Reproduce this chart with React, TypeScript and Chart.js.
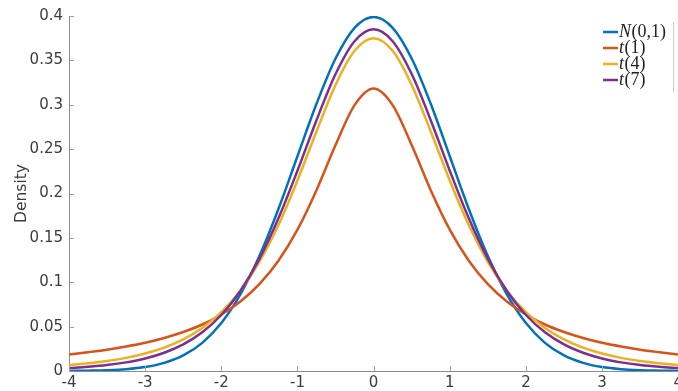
import React, { useEffect, useRef } from "react";
import { Chart, registerables } from "chart.js";

Chart.register(...registerables);

const xValues = [-4, -3.75, -3.5, -3.25, -3, -2.75, -2.5, -2.25, -2, -1.75, -1.5, -1.25, -1, -0.75, -0.5, -0.25, 0, 0.25, 0.5, 0.75, 1, 1.25, 1.5, 1.75, 2, 2.25, 2.5, 2.75, 3, 3.25, 3.5, 3.75, 4];

const normal01 = [0.0001, 0.0004, 0.0009, 0.002, 0.0044, 0.0091, 0.0175, 0.0317, 0.054, 0.0863, 0.1295, 0.1826, 0.242, 0.3011, 0.3521, 0.3867, 0.3989, 0.3867, 0.3521, 0.3011, 0.242, 0.1826, 0.1295, 0.0863, 0.054, 0.0317, 0.0175, 0.0091, 0.0044, 0.002, 0.0009, 0.0004, 0.0001];

const t1 = [0.0187, 0.0212, 0.024, 0.0276, 0.0318, 0.0372, 0.0439, 0.0524, 0.0637, 0.0784, 0.0979, 0.1242, 0.1592, 0.2037, 0.2546, 0.2996, 0.3183, 0.2996, 0.2546, 0.2037, 0.1592, 0.1242, 0.0979, 0.0784, 0.0637, 0.0524, 0.0439, 0.0372, 0.0318, 0.0276, 0.024, 0.0212, 0.0187];

const t4 = [0.0067, 0.0087, 0.0113, 0.0148, 0.0197, 0.0264, 0.0357, 0.0485, 0.0663, 0.0905, 0.1229, 0.1644, 0.2147, 0.2699, 0.3223, 0.3608, 0.375, 0.3608, 0.3223, 0.2699, 0.2147, 0.1644, 0.1229, 0.0905, 0.0663, 0.0485, 0.0357, 0.0264, 0.0197, 0.0148, 0.0113, 0.0087, 0.0067];

const t7 = [0.0033, 0.0047, 0.0067, 0.0097, 0.0141, 0.0206, 0.03, 0.0437, 0.0631, 0.0902, 0.1263, 0.172, 0.2257, 0.2826, 0.3346, 0.3716, 0.385, 0.3716, 0.3346, 0.2826, 0.2257, 0.172, 0.1263, 0.0902, 0.0631, 0.0437, 0.03, 0.0206, 0.0141, 0.0097, 0.0067, 0.0047, 0.0033];

const xTickLabels = ["-4", "-3", "-2", "-1", "0", "1", "2", "3", "4"];
const yTickLabels = ["0", "0.05", "0.1", "0.15", "0.2", "0.25", "0.3", "0.35", "0.4"];

const seriesNames = [
  { italic: "N", rest: "(0,1)" },
  { italic: "t", rest: "(1)" },
  { italic: "t", rest: "(4)" },
  { italic: "t", rest: "(7)" },
];
const seriesColors = ["#0072BD", "#D95319", "#EDB120", "#7E2F8E"];
const seriesData = [normal01, t1, t4, t7];

const AXIS = "#8c8c8c";
const TEXT = "#3c3c3c";
const SANS = "'DejaVu Sans', sans-serif";

const decorPlugin = {
  id: "decor",
  afterDraw(chart: any) {
    const ctx = chart.ctx;
    const xs = chart.scales.x;
    const ys = chart.scales.y;
    const area = chart.chartArea;
    ctx.save();
    // inward ticks
    ctx.strokeStyle = "#a0a0a0";
    ctx.lineWidth = 1;
    xTickLabels.forEach((l) => {
      const px = Math.round(xs.getPixelForValue(Number(l))) + 0.5;
      ctx.beginPath();
      ctx.moveTo(px, area.bottom);
      ctx.lineTo(px, area.bottom - 5);
      ctx.stroke();
    });
    yTickLabels.forEach((l) => {
      const py = Math.round(ys.getPixelForValue(Number(l))) + 0.5;
      ctx.beginPath();
      ctx.moveTo(area.left, py);
      ctx.lineTo(area.left + 5, py);
      ctx.stroke();
    });
    // legend
    const lx0 = 603;
    const lx1 = 618;
    const tx = 619;
    const ly = [32, 48, 64, 80];
    ctx.strokeStyle = "#c8c8c8";
    ctx.lineWidth = 1;
    ctx.beginPath();
    ctx.moveTo(673.5, 22);
    ctx.lineTo(673.5, 92);
    ctx.stroke();
    seriesNames.forEach((s, i) => {
      ctx.strokeStyle = seriesColors[i];
      ctx.lineWidth = 2.5;
      ctx.beginPath();
      ctx.moveTo(lx0, ly[i]);
      ctx.lineTo(lx1, ly[i]);
      ctx.stroke();
      ctx.fillStyle = "#222";
      ctx.textBaseline = "middle";
      ctx.textAlign = "left";
      ctx.font = "italic 18px 'Liberation Serif'";
      ctx.fillText(s.italic, tx, ly[i]);
      const w = ctx.measureText(s.italic).width;
      ctx.font = "18px 'Liberation Serif'";
      ctx.fillText(s.rest, tx + w + 0.5, ly[i]);
    });
    ctx.restore();
  },
};

export default function App() {
  const ref = useRef<HTMLCanvasElement>(null);
  useEffect(() => {
    document.body.style.margin = "0";
    document.body.style.overflow = "hidden";
    const canvas = ref.current!;
    const chart = new Chart(canvas, {
      type: "line",
      data: {
        datasets: seriesData.map((d, i) => ({
          label: seriesNames[i].italic + seriesNames[i].rest,
          data: d.map((y, j) => ({ x: xValues[j], y })),
          borderColor: seriesColors[i],
          backgroundColor: seriesColors[i],
          borderWidth: 2.5,
          pointRadius: 0,
          fill: false,
          cubicInterpolationMode: "monotone" as const,
          order: 4 - i,
        })),
      },
      options: {
        animation: false,
        responsive: false,
        layout: { padding: { top: 16, left: 0, right: 0, bottom: 0 } },
        plugins: {
          legend: { display: false },
          tooltip: { enabled: false },
        },
        scales: {
          x: {
            type: "linear",
            min: -4,
            max: 4,
            afterBuildTicks: (s: any) => {
              s.ticks = xTickLabels.map((l) => ({ value: Number(l) }));
            },
            afterFit: (s: any) => {
              s.height = 31;
            },
            ticks: {
              callback: (v: any) => {
                const idx = xTickLabels.findIndex((l) => Number(l) === v);
                return idx >= 0 ? xTickLabels[idx] : "";
              },
              color: TEXT,
              font: { family: SANS, size: 15 },
              padding: 3,
              maxRotation: 0,
            },
            grid: { display: true, drawOnChartArea: false, drawTicks: false },
            border: { display: true, color: AXIS, width: 1 },
          },
          y: {
            type: "linear",
            min: 0,
            max: 0.4,
            afterBuildTicks: (s: any) => {
              s.ticks = yTickLabels.map((l) => ({ value: Number(l) }));
            },
            afterFit: (s: any) => {
              s.width = 69;
            },
            ticks: {
              callback: (v: any) => {
                const idx = yTickLabels.findIndex((l) => Math.abs(Number(l) - v) < 1e-9);
                return idx >= 0 ? yTickLabels[idx] : "";
              },
              color: TEXT,
              font: { family: SANS, size: 15 },
              padding: 6,
            },
            grid: { display: true, drawOnChartArea: false, drawTicks: false },
            border: { display: true, color: AXIS, width: 1 },
            title: {
              display: true,
              text: "Density",
              color: TEXT,
              font: { family: SANS, size: 15.5 },
              padding: { top: 13, bottom: 0 },
            },
          },
        },
      },
      plugins: [decorPlugin],
    });
    return () => chart.destroy();
  }, []);
  return (
    <div style={{ width: 686, height: 402 }}>
      <canvas ref={ref} width={686} height={402} style={{ display: "block" }} />
    </div>
  );
}
